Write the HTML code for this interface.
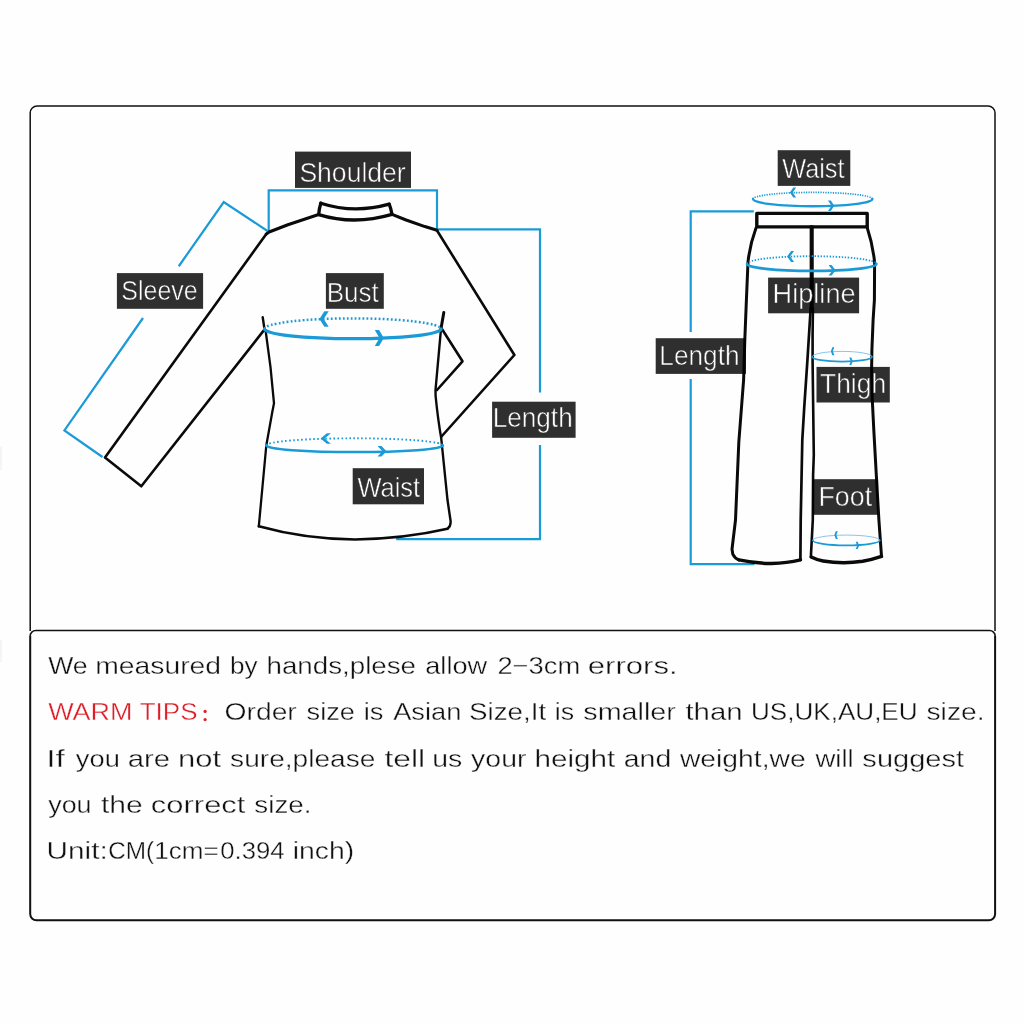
<!DOCTYPE html>
<html><head><meta charset="utf-8"><title>Size guide</title>
<style>
html,body{margin:0;padding:0;background:#fefefe;}
body{width:1024px;height:1024px;overflow:hidden;font-family:"Liberation Sans",sans-serif;}
svg{display:block;will-change:transform;}
svg text{font-family:"Liberation Sans",sans-serif;}
</style></head>
<body>
<svg width="1024" height="1024" viewBox="0 0 1024 1024">
<rect width="1024" height="1024" fill="#fefefe"/>
<g fill="none" stroke="#111">
<path d="M30.2 631 V113 a7 7 0 0 1 7 -7 H988 a7 7 0 0 1 7 7 V631" stroke-width="1.5"/>
<path d="M30.2 636 a5.5 5.5 0 0 1 5.5 -5.5 H989.6 a5.5 5.5 0 0 1 5.5 5.5" stroke-width="1.5"/>
<path d="M30.2 636 V914 a6.3 6.3 0 0 0 6.3 6.3 H988.8 a6.3 6.3 0 0 0 6.3 -6.3 V636" stroke-width="2"/>
</g>
<rect x="0" y="446" width="2" height="24" fill="#f5f5f5"/><rect x="0" y="640" width="2" height="22" fill="#f5f5f5"/>
<g fill="none" stroke="#1b9ad8" stroke-width="2.2">
<path d="M268.7 231 V190.3 H437 V229.4 H540 V392.5"/>
<path d="M540 445 V539.2 H396.2"/>
<path d="M267.5 231 L223.75 202 L178.75 266.25"/>
<path d="M143 318 L64.4 430.4 L102.5 457"/>
</g>
<g fill="none" stroke="#0a0a0a" stroke-width="2.6" stroke-linecap="round" stroke-linejoin="round">
<!-- collar -->
<path d="M320.8 203.2 Q354 214 389.2 204.2" stroke-width="3.3"/>
<path d="M320.8 203.2 Q319 209 318.7 214.6 Q354 225.5 392 214.4 Q391 208.5 389.2 204.2" stroke-width="3.3"/>
<!-- shoulders -->
<path d="M318.7 214.6 L310.4 217.2 L287.9 224.7 L269.1 232 L266.3 234" stroke-width="3.1"/>
<path d="M392 214.4 L406.1 220 L424.9 226.6 L437 230.3" stroke-width="3.1"/>
<!-- left sleeve -->
<path d="M266.3 234 L105 457.5 L141.3 486.3 L263.6 330.6 L265.6 330.5"/>
<!-- right arm -->
<path d="M437 230.5 L514.4 355 L441.5 436.5"/>
<path d="M441.3 328 L462.5 361.3 L437 390"/>
<!-- armpit ticks -->
<path d="M262.7 317.2 L264.4 328.5" stroke-width="2.4"/>
<path d="M443.8 312.6 L441 328.8" stroke-width="3"/>
<!-- body -->
<path d="M265.6 330.5 L270.5 367.2 L274 403.3 L272.2 412.5 L266.3 445.5 L258.8 526.3" stroke-width="2.3"/>
<path d="M441 328.8 L435.5 390 L435.6 396 Q438 420 441.2 438 L447.5 500 L450.6 521 Q451 526.5 447.5 528.8" stroke-width="2.4"/>
<path d="M258.8 526.3 C290 535 325 539.3 355 539.5 C390 539 425 534 447.5 528.8"/>
</g>
<path d="M264.5 329 A88.3 10.6 0 0 1 441.1 329" fill="none" stroke="#1b9ad8" stroke-width="2.5" stroke-dasharray="1.8 2.2"/>
<path d="M264.5 329 A88.3 9.6 0 0 0 441.1 329" fill="none" stroke="#1b9ad8" stroke-width="3.3" stroke-linecap="round"/>
<polygon points="319.4,319 324.4,311.35 328.7,311.35 323.7,319 328.7,326.65 324.4,326.65" fill="#1b9ad8"/>
<polygon points="383.8,338.1 379.1,330.1 374.8,330.1 379.5,338.1 374.8,346.1 379.1,346.1" fill="#1b9ad8"/>
<path d="M266.20000000000005 445.5 A88.4 7.2 0 0 1 443.0 445.5" fill="none" stroke="#1b9ad8" stroke-width="1.9" stroke-dasharray="1.6 2.4"/>
<path d="M266.20000000000005 445.5 A88.4 6.6 0 0 0 443.0 445.5" fill="none" stroke="#1b9ad8" stroke-width="2.5" stroke-linecap="round"/>
<polygon points="320.6,438.5 326.9,433.2 330.9,433.2 324.6,438.5 330.9,443.8 326.9,443.8" fill="#1b9ad8"/>
<polygon points="386.5,451.3 381.5,446.0 377.5,446.0 382.5,451.3 377.5,456.6 381.5,456.6" fill="#1b9ad8"/>
<rect x="295" y="151.6" width="116" height="36.3" fill="rgba(0,0,0,0.815)"/>
<text x="299.39" y="182.3" textLength="106.35" lengthAdjust="spacingAndGlyphs" fill="#fff" stroke="#303030" stroke-width="0.55" font-size="28">Shoulder</text>
<rect x="116.9" y="273.1" width="86.2" height="35.7" fill="rgba(0,0,0,0.815)"/>
<text x="121.37" y="300" textLength="76.24" lengthAdjust="spacingAndGlyphs" fill="#fff" stroke="#303030" stroke-width="0.55" font-size="28">Sleeve</text>
<rect x="325.9" y="273.1" width="57.9" height="35.7" fill="rgba(0,0,0,0.815)"/>
<text x="326.67" y="302.3" textLength="52.02" lengthAdjust="spacingAndGlyphs" fill="#fff" stroke="#303030" stroke-width="0.55" font-size="28">Bust</text>
<rect x="352.7" y="468.2" width="71.3" height="36.1" fill="rgba(0,0,0,0.815)"/>
<text x="357.39" y="497" textLength="62.79" lengthAdjust="spacingAndGlyphs" fill="#fff" stroke="#303030" stroke-width="0.55" font-size="28">Waist</text>
<rect x="492.1" y="401.7" width="83.5" height="36.1" fill="rgba(0,0,0,0.815)"/>
<text x="492.65" y="427.1" textLength="80.05" lengthAdjust="spacingAndGlyphs" fill="#fff" stroke="#303030" stroke-width="0.55" font-size="28">Length</text>
<g fill="none" stroke="#1b9ad8" stroke-width="2.2">
<path d="M753.8 211.3 H690.7 V332"/>
<path d="M690.7 379 V564.1 H754.4"/>
</g>
<g fill="none" stroke="#0a0a0a" stroke-width="3" stroke-linecap="round" stroke-linejoin="round">
<path d="M756.8 213.4 H867.2 V226.9 H756.8 Z" stroke-width="3.4"/>
<path d="M811.7 227 V310" stroke-width="4.1"/>
<path d="M756 228 Q749.8 245 748 262 L746.2 305 L744.8 340 L743.6 380 L738.8 442.5 L735.5 520 L732 549.2 L732.9 554.4 Q735 558.6 738.9 559.9" />
<path d="M738.9 559.9 C754 563 765 563.5 771.5 563.4 C781 563.3 792 562 800.4 559.9" stroke-width="3.5"/>
<path d="M810.7 308 L807.3 362 L804.2 408 L802.3 440 L801.6 475 L800.7 520 L800.4 559.9" stroke-width="2.7"/>
<path d="M812.9 308 L812.6 336 L812.6 362 L813.8 455 L813.1 475 L812.8 520 L811 554.4 L811.1 557" stroke-width="2.6"/>
<path d="M811.1 557 Q817 559.9 823.1 561 C835 562.9 850 563.1 862.6 561.3 C870 560 876 558.3 881.5 556.4" stroke-width="3.5"/>
<path d="M867.3 228 Q872.6 244 874.6 262 L874.4 300 L873.1 320 L871.9 350 L871.6 370 L872.3 400 L873.8 430 L876.3 475 L878.9 520 L881.5 556.4" />
</g>
<path d="M753.0 199 A59.7 6.6 0 0 1 872.4000000000001 199" fill="none" stroke="#1b9ad8" stroke-width="1.7" stroke-dasharray="1.25 1.2"/>
<path d="M753.0 199 A59.7 7.3 0 0 0 872.4000000000001 199" fill="none" stroke="#1b9ad8" stroke-width="2.4" stroke-linecap="round"/>
<polygon points="789.9,192.5 793.3,187.5 796.1,187.5 792.7,192.5 796.1,197.5 793.3,197.5" fill="#1b9ad8"/>
<polygon points="834.3,205.7 830.8,200.4 828.0,200.4 831.5,205.7 828.0,211.0 830.8,211.0" fill="#1b9ad8"/>
<path d="M747.0 263.9 A64.7 7.7 0 0 1 876.4000000000001 263.9" fill="none" stroke="#1b9ad8" stroke-width="1.8" stroke-dasharray="1.4 1.6"/>
<path d="M747.0 263.9 A64.7 7 0 0 0 876.4000000000001 263.9" fill="none" stroke="#1b9ad8" stroke-width="2.6" stroke-linecap="round"/>
<polygon points="787.1,256.5 791.1,250.9 794.1,250.9 790.1,256.5 794.1,262.1 791.1,262.1" fill="#1b9ad8"/>
<polygon points="835.6,270.2 831.6,265.0 828.6,265.0 832.6,270.2 828.6,275.4 831.6,275.4" fill="#1b9ad8"/>
<path d="M812.2 356.8 A29.9 5.4 0 0 1 872.0 356.8" fill="none" stroke="#86c6ea" stroke-width="1.0"/>
<path d="M812.2 356.8 A29.9 4.8 0 0 0 872.0 356.8" fill="none" stroke="#1b9ad8" stroke-width="1.7" stroke-linecap="round"/>
<polygon points="830.9,351.2 832.3,347.2 834.3,347.2 832.9,351.2 834.3,355.2 832.3,355.2" fill="#1b9ad8"/>
<polygon points="852.8,361.3 851.3,357.6 849.3,357.6 850.8,361.3 849.3,365.0 851.3,365.0" fill="#1b9ad8"/>
<path d="M812.8 540.3 A33.5 5.2 0 0 1 879.8 540.3" fill="none" stroke="#86c6ea" stroke-width="1.0"/>
<path d="M812.8 540.3 A33.5 5.1 0 0 0 879.8 540.3" fill="none" stroke="#1b9ad8" stroke-width="1.7" stroke-linecap="round"/>
<polygon points="834.3,535.1 835.8,531.25 837.8,531.25 836.3,535.1 837.8,538.95 835.8,538.95" fill="#1b9ad8"/>
<polygon points="859.2,545.4 857.7,541.7 855.7,541.7 857.2,545.4 855.7,549.1 857.7,549.1" fill="#1b9ad8"/>
<rect x="777.7" y="150.2" width="72.6" height="35.7" fill="rgba(0,0,0,0.815)"/>
<text x="782.19" y="178" textLength="62.39" lengthAdjust="spacingAndGlyphs" fill="#fff" stroke="#303030" stroke-width="0.55" font-size="28">Waist</text>
<rect x="768.1" y="277.6" width="91.0" height="35.7" fill="rgba(0,0,0,0.815)"/>
<text x="772.57" y="303.3" textLength="83.03" lengthAdjust="spacingAndGlyphs" fill="#fff" stroke="#303030" stroke-width="0.55" font-size="28">Hipline</text>
<rect x="655.7" y="338.2" width="90.3" height="35.7" fill="rgba(0,0,0,0.815)"/>
<text x="659.35" y="364.8" textLength="80.15" lengthAdjust="spacingAndGlyphs" fill="#fff" stroke="#303030" stroke-width="0.55" font-size="28">Length</text>
<rect x="816.5" y="366.9" width="73.3" height="35.6" fill="rgba(0,0,0,0.815)"/>
<text x="820.01" y="392.8" textLength="66.11" lengthAdjust="spacingAndGlyphs" fill="#fff" stroke="#303030" stroke-width="0.55" font-size="28">Thigh</text>
<rect x="812.6" y="479.2" width="65.5" height="35.6" fill="rgba(0,0,0,0.815)"/>
<text x="818.4" y="505.8" textLength="53.7" lengthAdjust="spacingAndGlyphs" fill="#fff" stroke="#303030" stroke-width="0.55" font-size="28">Foot</text>
<g>
<text x="48.18" y="673.8" textLength="39.49" lengthAdjust="spacingAndGlyphs" fill="#111" stroke="#fefefe" stroke-width="0.35" font-size="24.6">We</text>
<text x="95.22" y="673.8" textLength="125.91" lengthAdjust="spacingAndGlyphs" fill="#111" stroke="#fefefe" stroke-width="0.35" font-size="24.6">measured</text>
<text x="229.91" y="673.8" textLength="27.64" lengthAdjust="spacingAndGlyphs" fill="#111" stroke="#fefefe" stroke-width="0.35" font-size="24.6">by</text>
<text x="266.48" y="673.8" textLength="149.55" lengthAdjust="spacingAndGlyphs" fill="#111" stroke="#fefefe" stroke-width="0.35" font-size="24.6">hands,plese</text>
<text x="425.25" y="673.8" textLength="61.89" lengthAdjust="spacingAndGlyphs" fill="#111" stroke="#fefefe" stroke-width="0.35" font-size="24.6">allow</text>
<text x="497.42" y="673.8" textLength="82.88" lengthAdjust="spacingAndGlyphs" fill="#111" stroke="#fefefe" stroke-width="0.35" font-size="24.6">2−3cm</text>
<text x="587.78" y="673.8" textLength="89.86" lengthAdjust="spacingAndGlyphs" fill="#111" stroke="#fefefe" stroke-width="0.35" font-size="24.6">errors.</text>
<text x="48.18" y="720.2" textLength="84.3" lengthAdjust="spacingAndGlyphs" fill="#dc1e28" stroke="#fefefe" stroke-width="0.35" font-size="24.6">WARM</text>
<text x="139.72" y="720.2" textLength="57.78" lengthAdjust="spacingAndGlyphs" fill="#dc1e28" stroke="#fefefe" stroke-width="0.35" font-size="24.6">TIPS</text>
<circle cx="205.1" cy="711.4" r="1.6" fill="#dc1e28"/><circle cx="205.1" cy="719.6" r="1.6" fill="#dc1e28"/>
<text x="224.56" y="720.2" textLength="72.21" lengthAdjust="spacingAndGlyphs" fill="#111" stroke="#fefefe" stroke-width="0.35" font-size="24.6">Order</text>
<text x="306.54" y="720.2" textLength="48.37" lengthAdjust="spacingAndGlyphs" fill="#111" stroke="#fefefe" stroke-width="0.35" font-size="24.6">size</text>
<text x="363.77" y="720.2" textLength="19.71" lengthAdjust="spacingAndGlyphs" fill="#111" stroke="#fefefe" stroke-width="0.35" font-size="24.6">is</text>
<text x="393.15" y="720.2" textLength="68.22" lengthAdjust="spacingAndGlyphs" fill="#111" stroke="#fefefe" stroke-width="0.35" font-size="24.6">Asian</text>
<text x="468.94" y="720.2" textLength="77.16" lengthAdjust="spacingAndGlyphs" fill="#111" stroke="#fefefe" stroke-width="0.35" font-size="24.6">Size,It</text>
<text x="554.71" y="720.2" textLength="19.36" lengthAdjust="spacingAndGlyphs" fill="#111" stroke="#fefefe" stroke-width="0.35" font-size="24.6">is</text>
<text x="583.3" y="720.2" textLength="92.58" lengthAdjust="spacingAndGlyphs" fill="#111" stroke="#fefefe" stroke-width="0.35" font-size="24.6">smaller</text>
<text x="685.46" y="720.2" textLength="57.15" lengthAdjust="spacingAndGlyphs" fill="#111" stroke="#fefefe" stroke-width="0.35" font-size="24.6">than</text>
<text x="750.99" y="720.2" textLength="166.62" lengthAdjust="spacingAndGlyphs" fill="#111" stroke="#fefefe" stroke-width="0.35" font-size="24.6">US,UK,AU,EU</text>
<text x="926.51" y="720.2" textLength="58.06" lengthAdjust="spacingAndGlyphs" fill="#111" stroke="#fefefe" stroke-width="0.35" font-size="24.6">size.</text>
<text x="46.2" y="766.7" textLength="18.65" lengthAdjust="spacingAndGlyphs" fill="#111" stroke="#fefefe" stroke-width="0.35" font-size="24.6">If</text>
<text x="75.83" y="766.7" textLength="43.98" lengthAdjust="spacingAndGlyphs" fill="#111" stroke="#fefefe" stroke-width="0.35" font-size="24.6">you</text>
<text x="127.76" y="766.7" textLength="42.35" lengthAdjust="spacingAndGlyphs" fill="#111" stroke="#fefefe" stroke-width="0.35" font-size="24.6">are</text>
<text x="178.04" y="766.7" textLength="43.09" lengthAdjust="spacingAndGlyphs" fill="#111" stroke="#fefefe" stroke-width="0.35" font-size="24.6">not</text>
<text x="230.12" y="766.7" textLength="145.33" lengthAdjust="spacingAndGlyphs" fill="#111" stroke="#fefefe" stroke-width="0.35" font-size="24.6">sure,please</text>
<text x="384.42" y="766.7" textLength="40.71" lengthAdjust="spacingAndGlyphs" fill="#111" stroke="#fefefe" stroke-width="0.35" font-size="24.6">tell</text>
<text x="432.15" y="766.7" textLength="30.08" lengthAdjust="spacingAndGlyphs" fill="#111" stroke="#fefefe" stroke-width="0.35" font-size="24.6">us</text>
<text x="471.13" y="766.7" textLength="55.34" lengthAdjust="spacingAndGlyphs" fill="#111" stroke="#fefefe" stroke-width="0.35" font-size="24.6">your</text>
<text x="534.55" y="766.7" textLength="80.67" lengthAdjust="spacingAndGlyphs" fill="#111" stroke="#fefefe" stroke-width="0.35" font-size="24.6">height</text>
<text x="623.69" y="766.7" textLength="47.55" lengthAdjust="spacingAndGlyphs" fill="#111" stroke="#fefefe" stroke-width="0.35" font-size="24.6">and</text>
<text x="679.94" y="766.7" textLength="125.71" lengthAdjust="spacingAndGlyphs" fill="#111" stroke="#fefefe" stroke-width="0.35" font-size="24.6">weight,we</text>
<text x="815.44" y="766.7" textLength="38.3" lengthAdjust="spacingAndGlyphs" fill="#111" stroke="#fefefe" stroke-width="0.35" font-size="24.6">will</text>
<text x="862.39" y="766.7" textLength="101.62" lengthAdjust="spacingAndGlyphs" fill="#111" stroke="#fefefe" stroke-width="0.35" font-size="24.6">suggest</text>
<text x="48.23" y="812.6" textLength="43.35" lengthAdjust="spacingAndGlyphs" fill="#111" stroke="#fefefe" stroke-width="0.35" font-size="24.6">you</text>
<text x="100.95" y="812.6" textLength="41.69" lengthAdjust="spacingAndGlyphs" fill="#111" stroke="#fefefe" stroke-width="0.35" font-size="24.6">the</text>
<text x="150.89" y="812.6" textLength="94.54" lengthAdjust="spacingAndGlyphs" fill="#111" stroke="#fefefe" stroke-width="0.35" font-size="24.6">correct</text>
<text x="254.33" y="812.6" textLength="57.11" lengthAdjust="spacingAndGlyphs" fill="#111" stroke="#fefefe" stroke-width="0.35" font-size="24.6">size.</text>
<text x="46.5" y="858.8" textLength="61.22" lengthAdjust="spacingAndGlyphs" fill="#111" stroke="#fefefe" stroke-width="0.35" font-size="24.6">Unit:</text>
<text x="108.16" y="858.8" textLength="45.98" lengthAdjust="spacingAndGlyphs" fill="#111" stroke="#fefefe" stroke-width="0.35" font-size="24.6">CM(</text>
<text x="154.31" y="858.8" textLength="64.47" lengthAdjust="spacingAndGlyphs" fill="#111" stroke="#fefefe" stroke-width="0.35" font-size="24.6">1cm=</text>
<text x="220.3" y="858.8" textLength="64.26" lengthAdjust="spacingAndGlyphs" fill="#111" stroke="#fefefe" stroke-width="0.35" font-size="24.6">0.394</text>
<text x="292.8" y="858.8" textLength="61.45" lengthAdjust="spacingAndGlyphs" fill="#111" stroke="#fefefe" stroke-width="0.35" font-size="24.6">inch)</text>
</g>
</svg>
</body></html>
